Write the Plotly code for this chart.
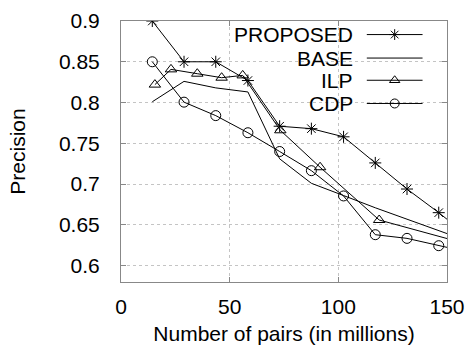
import plotly.graph_objects as go

# ---- data ----
x_main = [14.4, 29.0, 43.6, 58.4, 73.0, 87.6, 102.4, 117.0, 131.6, 146.2, 160.8]
proposed = [0.900, 0.850, 0.850, 0.827, 0.771, 0.768, 0.758, 0.726, 0.694, 0.665, 0.634]
base = [0.801, 0.826, 0.818, 0.813, 0.731, 0.701, 0.686, 0.671, 0.657, 0.643, 0.629]
cdp = [0.850, 0.8005, 0.784, 0.763, 0.740, 0.7165, 0.6855, 0.638, 0.6335, 0.6245, 0.616]
ilp_x = [15.6, 23.0, 35.1, 46.3, 56.0, 73.3, 91.6, 118.8, 160.0]
ilp = [0.822, 0.8407, 0.8354, 0.8305, 0.8333, 0.766, 0.7207, 0.656, 0.626]

series_names = ["PROPOSED", "BASE", "ILP", "CDP"]
x_ticks = [0, 50, 100, 150]
y_ticks = [0.6, 0.65, 0.7, 0.75, 0.8, 0.85, 0.9]

FONT = "Liberation Sans, Arial, sans-serif"
FS = 21
symbols = {"PROPOSED": "asterisk-open", "BASE": None, "ILP": "triangle-up-open", "CDP": "circle-open"}

fig = go.Figure()

data = {
    "PROPOSED": (x_main, proposed),
    "BASE": (x_main, base),
    "ILP": (ilp_x, ilp),
    "CDP": (x_main, cdp),
}
for name in series_names:
    xs, ys = data[name]
    sym = symbols[name]
    fig.add_trace(go.Scatter(
        x=xs, y=ys, name=name,
        mode="lines+markers" if sym else "lines",
        line=dict(color="black", width=1),
        marker=dict(symbol=sym or "circle", size=10, color="black",
                    line=dict(color="black", width=1)) if sym else None,
        showlegend=False,
    ))

# ---- manual key (text right-aligned, sample on the right) ----
row_y = [0.948, 0.858, 0.773, 0.684]
text_x = 0.718
samp_x0, samp_x1 = 0.754, 0.925
for name, ry in zip(series_names, row_y):
    sym = symbols[name]
    fig.add_trace(go.Scatter(
        x=[samp_x0, (samp_x0 + samp_x1) / 2, samp_x1], y=[ry, ry, ry],
        xaxis="x2", yaxis="y2",
        mode="lines",
        line=dict(color="black", width=1),
        showlegend=False, hoverinfo="skip",
    ))
    if sym:
        fig.add_trace(go.Scatter(
            x=[(samp_x0 + samp_x1) / 2], y=[ry],
            xaxis="x2", yaxis="y2", mode="markers",
            marker=dict(symbol=sym, size=9, color="black", line=dict(color="black", width=1)),
            showlegend=False, hoverinfo="skip",
        ))
    fig.add_annotation(x=text_x, y=ry, xref="paper", yref="paper", text=name,
                       showarrow=False, xanchor="right", yanchor="middle",
                       font=dict(family=FONT, size=FS, color="black"))

# white key background (over grid, under data)
fig.add_shape(type="rect", xref="paper", yref="paper", x0=0.414, x1=0.957, y0=0.643, y1=0.999,
              fillcolor="white", line=dict(width=0), layer="between")

axis_common = dict(
    showline=True, linecolor="#888888", linewidth=1, mirror="allticks",
    ticks="inside", ticklen=5, tickcolor="#888888",
    showgrid=True, gridcolor="#c4c4c4", griddash="dot", gridwidth=1,
    zeroline=False, automargin=False,
    tickfont=dict(family=FONT, size=FS, color="black"),
)

fig.update_layout(
    width=466, height=349,
    margin=dict(l=121, r=19, t=21, b=67),
    paper_bgcolor="white", plot_bgcolor="white",
    font=dict(family=FONT, size=FS, color="black"),
    xaxis=dict(range=[0, 150], tickvals=x_ticks, ticktext=[str(v) for v in x_ticks],
               ticklabelstandoff=6,
               title=dict(text="Number of pairs (in millions)", standoff=9,
                          font=dict(family=FONT, size=FS)), **axis_common),
    yaxis=dict(range=[0.58, 0.9], tickvals=y_ticks, ticktext=[f"{v:g}" for v in y_ticks],
               ticklabelstandoff=16,
               title=dict(text="Precision", standoff=27, font=dict(family=FONT, size=FS)),
               **axis_common),
    xaxis2=dict(range=[0, 1], overlaying="x", visible=False, fixedrange=True),
    yaxis2=dict(range=[0, 1], overlaying="y", visible=False, fixedrange=True),
    showlegend=False,
)

fig.write_html("out.html", config={"displayModeBar": False},
               post_script="document.body.style.margin='0';")
